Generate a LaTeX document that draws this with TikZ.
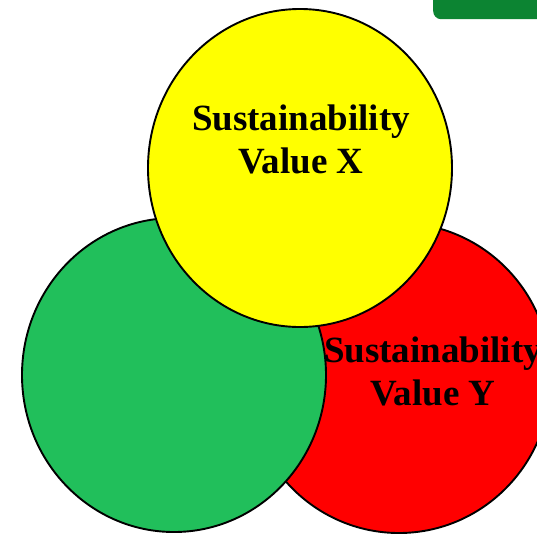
\documentclass[tikz,border=0pt]{standalone}
\usepackage{fontspec}
\setmainfont{Liberation Serif}
\usetikzlibrary{shapes.geometric}
\definecolor{vgreen}{RGB}{33,191,91}
\definecolor{vyellow}{RGB}{255,255,0}
\definecolor{vred}{RGB}{255,0,0}
\definecolor{tabgreen}{RGB}{12,132,50}
\tikzset{
  venn/.style={ellipse, draw=black, line width=1.9pt, inner sep=0pt, outer sep=0pt},
  vlabel/.style={anchor=base, inner sep=0pt, font=\fontsize{37}{43}\selectfont\bfseries}
}
\begin{document}
\begin{tikzpicture}[x=1pt, y=-1pt]
\useasboundingbox (0,0) rectangle (537,536);
\clip (0,0) rectangle (537,536);
\fill[white] (0,0) rectangle (537,536);
% top-right tab
\node[draw=none, fill=tabgreen, rounded corners=8pt, minimum width=114pt, minimum height=30pt, inner sep=0pt, anchor=north west] (tab) at (433,-11) {};
% circles
\node[venn, fill=vred, minimum width=304pt, minimum height=310pt] (red) at (399,378) {};
\node[venn, fill=vgreen, minimum width=304pt, minimum height=314pt] (green) at (174,375) {};
\node[venn, fill=vyellow, minimum width=304pt, minimum height=318pt] (yellow) at (300,168) {};
% labels
\node[vlabel] (x1) at (301,130) {Sustainability};
\node[vlabel] (x2) at (301,173) {Value X};
\node[vlabel] (y1) at (433,362) {Sustainability};
\node[vlabel] (y2) at (433,405) {Value Y};
\end{tikzpicture}
\end{document}
